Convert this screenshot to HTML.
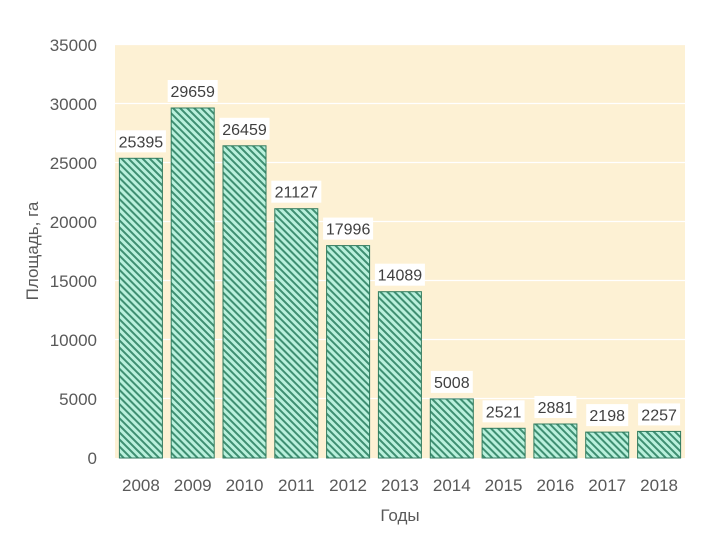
<!DOCTYPE html>
<html><head><meta charset="utf-8"><style>
body{margin:0;background:#fff}
svg text{font-family:"Liberation Sans",sans-serif}
</style></head><body>
<svg width="716" height="537" xmlns="http://www.w3.org/2000/svg">
<defs>
<pattern id="h" patternUnits="userSpaceOnUse" width="5" height="5" patternTransform="rotate(-45)">
<rect width="5" height="5" fill="#b9f0dc"/>
<rect width="2" height="5" fill="#3f8f72"/>
</pattern>
</defs>
<rect x="115" y="44" width="570" height="414" fill="#fdf1d4"/>
<g stroke="#fff" stroke-width="1.2">
<line x1="115" x2="685" y1="44.5" y2="44.5"/>
<line x1="115" x2="685" y1="103.5" y2="103.5"/>
<line x1="115" x2="685" y1="162.5" y2="162.5"/>
<line x1="115" x2="685" y1="221.5" y2="221.5"/>
<line x1="115" x2="685" y1="280.5" y2="280.5"/>
<line x1="115" x2="685" y1="339.5" y2="339.5"/>
<line x1="115" x2="685" y1="398.5" y2="398.5"/>
</g>
<g font-size="17" fill="#595959" text-anchor="end">
<text x="97" y="51">35000</text>
<text x="97" y="110">30000</text>
<text x="97" y="169">25000</text>
<text x="97" y="228">20000</text>
<text x="97" y="287">15000</text>
<text x="97" y="346">10000</text>
<text x="97" y="405">5000</text>
<text x="97" y="464">0</text>
</g>
<text transform="translate(38,251) rotate(-90)" font-size="17" fill="#595959" text-anchor="middle">Площадь, га</text>
<text x="400" y="521" font-size="17" fill="#595959" text-anchor="middle">Годы</text>

<g font-size="16" fill="#404040" text-anchor="middle">
<g transform="translate(140.9,158.3)"><rect x="-21.5" y="0" width="43" height="299.7" fill="url(#h)" stroke="#2f7a5e"/><rect x="-25" y="-28" width="50" height="22" fill="#fff"/><text y="-11">25395</text></g>
<g transform="translate(192.7,108.0)"><rect x="-21.5" y="0" width="43" height="350.0" fill="url(#h)" stroke="#2f7a5e"/><rect x="-25" y="-28" width="50" height="22" fill="#fff"/><text y="-11">29659</text></g>
<g transform="translate(244.5,145.8)"><rect x="-21.5" y="0" width="43" height="312.2" fill="url(#h)" stroke="#2f7a5e"/><rect x="-25" y="-28" width="50" height="22" fill="#fff"/><text y="-11">26459</text></g>
<g transform="translate(296.3,208.7)"><rect x="-21.5" y="0" width="43" height="249.3" fill="url(#h)" stroke="#2f7a5e"/><rect x="-25" y="-28" width="50" height="22" fill="#fff"/><text y="-11">21127</text></g>
<g transform="translate(348.1,245.6)"><rect x="-21.5" y="0" width="43" height="212.4" fill="url(#h)" stroke="#2f7a5e"/><rect x="-25" y="-28" width="50" height="22" fill="#fff"/><text y="-11">17996</text></g>
<g transform="translate(399.9,291.7)"><rect x="-21.5" y="0" width="43" height="166.3" fill="url(#h)" stroke="#2f7a5e"/><rect x="-25" y="-28" width="50" height="22" fill="#fff"/><text y="-11">14089</text></g>
<g transform="translate(451.8,398.9)"><rect x="-21.5" y="0" width="43" height="59.1" fill="url(#h)" stroke="#2f7a5e"/><rect x="-21" y="-28" width="42" height="22" fill="#fff"/><text y="-11">5008</text></g>
<g transform="translate(503.6,428.3)"><rect x="-21.5" y="0" width="43" height="29.7" fill="url(#h)" stroke="#2f7a5e"/><rect x="-21" y="-28" width="42" height="22" fill="#fff"/><text y="-11">2521</text></g>
<g transform="translate(555.4,424.0)"><rect x="-21.5" y="0" width="43" height="34.0" fill="url(#h)" stroke="#2f7a5e"/><rect x="-21" y="-28" width="42" height="22" fill="#fff"/><text y="-11">2881</text></g>
<g transform="translate(607.2,432.1)"><rect x="-21.5" y="0" width="43" height="25.9" fill="url(#h)" stroke="#2f7a5e"/><rect x="-21" y="-28" width="42" height="22" fill="#fff"/><text y="-11">2198</text></g>
<g transform="translate(659.1,431.4)"><rect x="-21.5" y="0" width="43" height="26.6" fill="url(#h)" stroke="#2f7a5e"/><rect x="-21" y="-28" width="42" height="22" fill="#fff"/><text y="-11">2257</text></g>
</g>
<g font-size="17" fill="#595959" text-anchor="middle">
<text x="140.9" y="491">2008</text>
<text x="192.7" y="491">2009</text>
<text x="244.5" y="491">2010</text>
<text x="296.3" y="491">2011</text>
<text x="348.1" y="491">2012</text>
<text x="399.9" y="491">2013</text>
<text x="451.8" y="491">2014</text>
<text x="503.6" y="491">2015</text>
<text x="555.4" y="491">2016</text>
<text x="607.2" y="491">2017</text>
<text x="659.1" y="491">2018</text>
</g>
</svg>
</body></html>
